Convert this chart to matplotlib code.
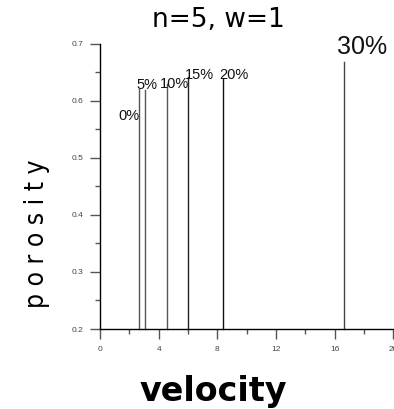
import matplotlib
matplotlib.use("Agg")
import matplotlib.pyplot as plt
from matplotlib.ticker import MultipleLocator

# data
labels = ["0%", "5%", "10%", "15%", "20%", "30%"]
velocity = [2.67, 3.05, 4.6, 6.0, 8.4, 16.65]
porosity_top = [0.620, 0.619, 0.629, 0.641, 0.638, 0.668]
label_x = [1.95, 3.2, 5.05, 6.8, 9.1, 17.85]
label_y = [0.573, 0.627, 0.629, 0.645, 0.645, 0.695]
label_size = [10.5, 10.5, 10.5, 10.5, 10.5, 18]
line_color = ["#555555", "#555555", "#555555", "#222222", "#111111", "#444444"]

fig = plt.figure(figsize=(3.94, 4.09), dpi=100)
ax = fig.add_axes([100 / 394, 80 / 409, 293.3 / 394, 285.3 / 409])

ymin = 0.2
for v, top, c in zip(velocity, porosity_top, line_color):
    ax.plot([v, v], [ymin, top], color=c, lw=1.0, clip_on=False)

for lab, x, y, s in zip(labels, label_x, label_y, label_size):
    ax.text(x, y, lab, fontsize=s, ha="center", va="center", color="#111111",
            family="Liberation Sans")

ax.set_xlim(0, 20)
ax.set_ylim(0.2, 0.7)
ax.xaxis.set_minor_locator(MultipleLocator(2))
ax.yaxis.set_minor_locator(MultipleLocator(0.05))
ax.set_xticks([0, 4, 8, 12, 16, 20])
ax.set_xticklabels(["0", "4", "8", "12", "16", "20"])
ax.set_yticks([0.2, 0.3, 0.4, 0.5, 0.6, 0.7])
ax.set_yticklabels(["0.2", "0.3", "0.4", "0.5", "0.6", "0.7"])
for t in ax.get_xticklabels() + ax.get_yticklabels():
    t.set_family("Liberation Sans")

for side in ["top", "right"]:
    ax.spines[side].set_visible(False)
ax.spines["left"].set_linewidth(1.0)
ax.spines["bottom"].set_linewidth(1.0)
ax.tick_params(which="major", direction="out", length=7, width=1, color="#555555",
               labelsize=6, labelcolor="#444444", pad=5)
ax.tick_params(which="minor", direction="out", length=3.5, width=1, color="#555555")

fig.text(0.553, 0.951, "n=5, w=1", fontsize=19, ha="center", va="center")
fig.text(0.54, 0.043, "velocity", fontsize=24, fontweight="bold", ha="center", va="center")
fig.text(0.095, 0.428, "p o r o s i t y", fontsize=19, rotation=90, ha="center", va="center",
         fontstretch="condensed")

fig.savefig("out.png", dpi=100)
